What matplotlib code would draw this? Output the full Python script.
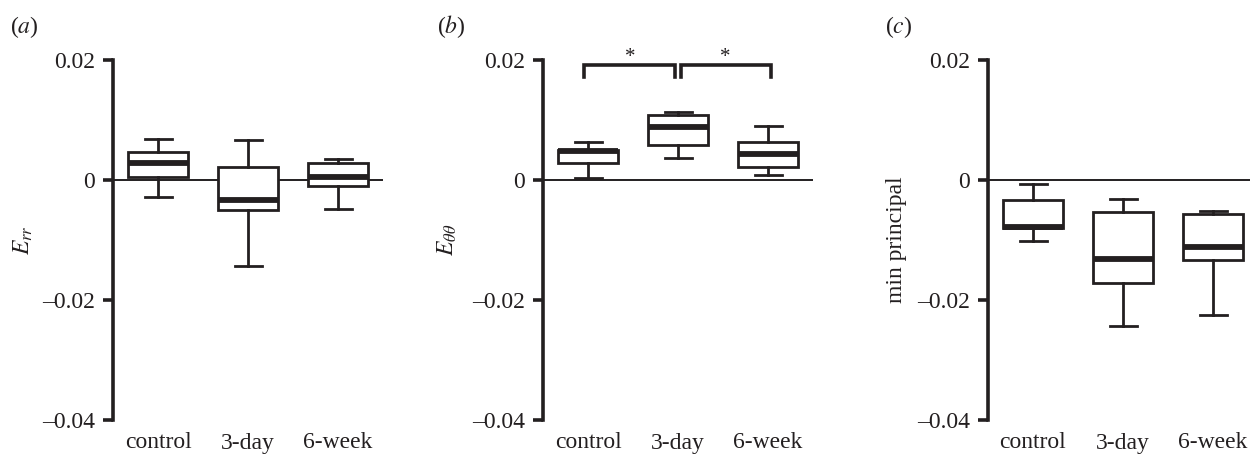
import matplotlib
matplotlib.use("Agg")
import matplotlib.pyplot as plt

plt.rcParams['font.family'] = ['Liberation Serif', 'DejaVu Serif']
plt.rcParams['mathtext.fontset'] = 'stix'

groups = ['control', '3-day', '6-week']

# box statistics per panel (whisker low, q1, median, q3, whisker high)
err_lo = [-0.0029, -0.0144, -0.0048]
err_q1 = [0.00055, -0.0050, -0.0010]
err_med = [0.0028, -0.0034, 0.00055]
err_q3 = [0.0047, 0.0021, 0.0029]
err_hi = [0.0069, 0.0067, 0.0035]

ett_lo = [0.00033, 0.0036, 0.00083]
ett_q1 = [0.0029, 0.0058, 0.0021]
ett_med = [0.0048, 0.0089, 0.0043]
ett_q3 = [0.0050, 0.0108, 0.0064]
ett_hi = [0.0064, 0.0114, 0.0090]

mp_lo = [-0.0101, -0.0243, -0.0225]
mp_q1 = [-0.0080, -0.0171, -0.0133]
mp_med = [-0.0079, -0.0131, -0.0111]
mp_q3 = [-0.0033, -0.0053, -0.0057]
mp_hi = [-0.0007, -0.0032, -0.0052]

# significance brackets in panel b: (left group, right group, label)
sig_pairs = [(0, 1, '*'), (1, 2, '*')]

yticks = [-0.04, -0.02, 0, 0.02]
ytick_labels = ['\u20130.04', '\u20130.02', '0', '0.02']

ink = '#231f20'
fs = 17

W, H = 1250, 455
fig = plt.figure(figsize=(W / 100, H / 100), dpi=100)


def make_stats(lo, q1, med, q3, hi):
    out = []
    for i in range(len(groups)):
        out.append(dict(whislo=lo[i], q1=q1[i], med=med[i], q3=q3[i],
                        whishi=hi[i], fliers=[], label=groups[i]))
    return out


def panel(left_px, stats, ylabel, label_x):
    ax = fig.add_axes([left_px / W, 35 / H, 270 / W, 360 / H])
    ax.axhline(0, color=ink, lw=1.4, zorder=1)
    ax.bxp(stats, positions=range(len(groups)), widths=0.67, patch_artist=True,
           showfliers=False,
           boxprops=dict(facecolor='white', edgecolor=ink, linewidth=2),
           whiskerprops=dict(color=ink, linewidth=2),
           capprops=dict(color=ink, linewidth=2),
           medianprops=dict(color=ink, linewidth=4.2, solid_capstyle='butt'),
           capwidths=0.3, zorder=3)
    ax.set_xlim(-0.5, 2.5)
    ax.set_ylim(-0.04, 0.02)
    ax.set_yticks(yticks)
    ax.set_yticklabels(ytick_labels)
    ax.set_xticks(range(len(groups)))
    ax.set_xticklabels(groups)
    for s in ['top', 'right', 'bottom']:
        ax.spines[s].set_visible(False)
    ax.spines['left'].set_linewidth(2.6)
    ax.spines['left'].set_color(ink)
    ax.tick_params(axis='y', length=7, width=2.6, color=ink, pad=6,
                   labelsize=fs, labelcolor=ink)
    ax.tick_params(axis='x', length=0, pad=9, labelsize=fs, labelcolor=ink)
    ax.set_ylabel(ylabel, fontsize=fs, color=ink)
    ax.yaxis.set_label_coords(label_x, 0.5)
    return ax


ax_a = panel(113, make_stats(err_lo, err_q1, err_med, err_q3, err_hi),
             r'$E_{rr}$', -0.29)
ax_b = panel(543, make_stats(ett_lo, ett_q1, ett_med, ett_q3, ett_hi),
             r'$E_{\theta\theta}$', -0.31)
ax_c = panel(988, make_stats(mp_lo, mp_q1, mp_med, mp_q3, mp_hi),
             'min principal', -0.30)

# brackets
for a, b, txt in sig_pairs:
    x0 = a - 0.04 if a == 0 else a + 0.03
    x1 = b - 0.03 if b == 1 else b + 0.03
    ax_b.plot([x0, x0, x1, x1], [0.0172, 0.0192, 0.0192, 0.0172],
              color=ink, lw=2.6, clip_on=False, solid_joinstyle='miter')
    ax_b.text((x0 + x1) / 2, 0.0204, txt, ha='center', va='center',
              fontsize=15, color=ink)

for x, letter in [(10, 'a'), (437, 'b'), (885, 'c')]:
    fig.text(x / W, 1 - 27 / H, '(' + r'$\it{' + letter + '}$' + ')',
             fontsize=fs, color=ink, va='center', ha='left')

fig.savefig('out.png', dpi=100)
